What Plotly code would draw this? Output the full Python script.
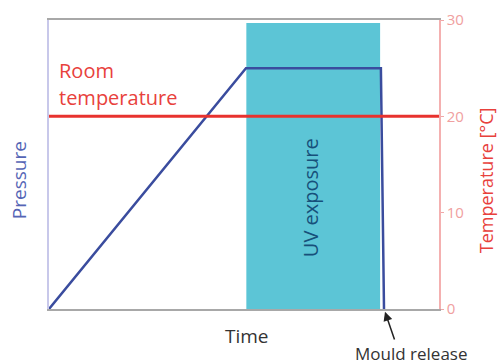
import plotly.graph_objects as go

# Data
pressure_time = [0, 50.5, 85.1, 85.9]
pressure_vals = [0, 25, 25, 0]
temp_time = [0, 100]
temp_vals = [20, 20]
uv_start, uv_end, uv_top = 50.6, 84.9, 29.7
temp_ticks = [0, 10, 20, 30]
release_time = 85.9

FONT = "Open Sans"

PH = 289.5  # plot height in px
PW = 390    # plot width in px

fig = go.Figure()

fig.add_shape(type="rect", xref="x", yref="y", x0=uv_start, x1=uv_end, y0=0, y1=uv_top,
              fillcolor="#5cc5d6", line=dict(width=0), layer="below")

fig.add_trace(go.Scatter(x=temp_time, y=temp_vals, mode="lines", yaxis="y2",
                         line=dict(color="#e8322e", width=3), showlegend=False, hoverinfo="skip"))
fig.add_trace(go.Scatter(x=pressure_time, y=pressure_vals, mode="lines",
                         line=dict(color="#3a4c9e", width=2.5), showlegend=False, hoverinfo="skip"))


def px(xp):
    return (xp - 49) / PW


def py(yp):
    return (309 - yp) / PH


fig.update_layout(
    width=499, height=364,
    margin=dict(l=49, r=60, t=19.5, b=55, autoexpand=False),
    paper_bgcolor="white", plot_bgcolor="white",
    font=dict(family=FONT),
    xaxis=dict(range=[0, 100], showticklabels=False, ticks="", showgrid=False, zeroline=False,
               showline=True, linecolor="#a8a8a8", linewidth=1.5, mirror=True),
    yaxis=dict(range=[0, 30], showticklabels=False, ticks="", showgrid=False, zeroline=False,
               showline=True, linecolor="#c8c8ea", linewidth=1.5),
    yaxis2=dict(range=[0, 30], overlaying="y", side="right", tickvals=temp_ticks,
                ticks="outside", ticklen=3, tickcolor="#f0a8a8",
                tickfont=dict(color="#f0a0a0", size=15, family=FONT),
                showgrid=False, zeroline=False, showline=True, linecolor="#f4b0b0", linewidth=1.5),
    annotations=[
        dict(text="Room", xref="paper", yref="paper", x=px(57), y=py(70),
             xanchor="left", yanchor="middle", showarrow=False,
             font=dict(color="#e8413c", size=20, family=FONT)),
        dict(text="temperature", xref="paper", yref="paper", x=px(57), y=py(97),
             xanchor="left", yanchor="middle", showarrow=False,
             font=dict(color="#e8413c", size=20, family=FONT)),
        dict(text="UV exposure", xref="paper", yref="paper", x=px(310), y=py(198),
             xanchor="center", yanchor="middle", textangle=-90, showarrow=False,
             font=dict(color="#17507a", size=20, family=FONT)),
        dict(text="Pressure", xref="paper", yref="paper", x=px(19), y=py(180),
             xanchor="center", yanchor="middle", textangle=-90, showarrow=False,
             font=dict(color="#5565b5", size=19, family=FONT)),
        dict(text="Temperature [°C]", xref="paper", yref="paper", x=px(486), y=py(180),
             xanchor="center", yanchor="middle", textangle=-90, showarrow=False,
             font=dict(color="#e8413c", size=18, family=FONT)),
        dict(text="Time", xref="paper", yref="paper", x=px(247), y=py(336),
             xanchor="center", yanchor="middle", showarrow=False,
             font=dict(color="#333333", size=19, family=FONT)),
        dict(text="", x=release_time, y=0, xref="x", yref="y", showarrow=True,
             ax=11, ay=32, arrowhead=2, arrowsize=1.2, arrowwidth=1.5, arrowcolor="#222222", standoff=3),
        dict(text="Mould release", xref="paper", yref="paper", x=px(411), y=py(354),
             xanchor="center", yanchor="middle", showarrow=False,
             font=dict(color="#333333", size=17, family=FONT)),
    ],
)

# remove the browser's default 8px page margin so the figure sits at the window's corner
fig.write_html("out.html", config={"displayModeBar": False},
               post_script="document.body.style.margin='0';")
